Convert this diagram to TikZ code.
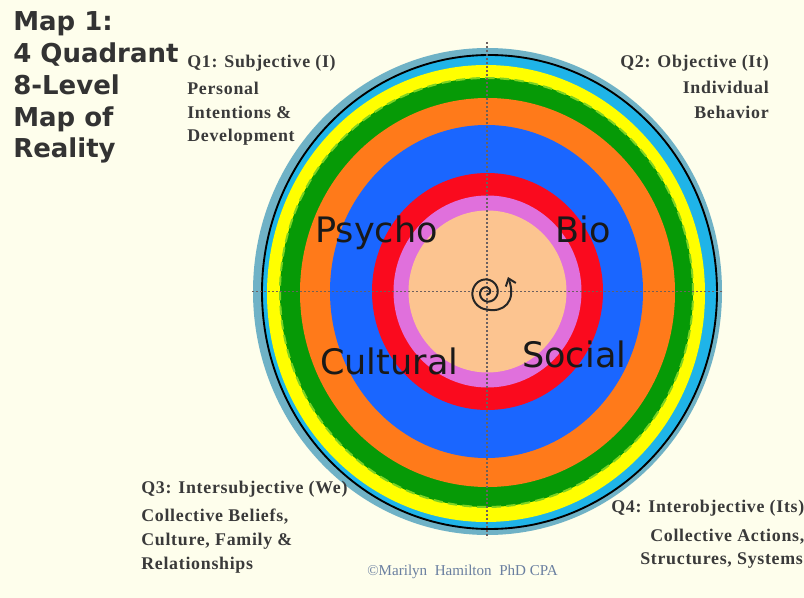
\documentclass[tikz,border=0pt]{standalone}
\usepackage{fontspec}
\usetikzlibrary{arrows.meta}
\setmainfont{Liberation Serif}
\newfontfamily\titlefont{DejaVu Sans}
\newfontfamily\spacedfont[LetterSpace=4]{Liberation Serif}
\definecolor{bgc}{HTML}{FEFEEC}
\definecolor{tealc}{HTML}{6FB2C6}
\definecolor{skyc}{HTML}{1FB4E8}
\definecolor{yellowc}{HTML}{FFFF00}
\definecolor{greenc}{HTML}{069A06}
\definecolor{limec}{HTML}{7ED321}
\definecolor{orangec}{HTML}{FF7A1A}
\definecolor{bluec}{HTML}{1A66FF}
\definecolor{redc}{HTML}{FA0A1E}
\definecolor{violetc}{HTML}{E070DC}
\definecolor{peachc}{HTML}{FCC490}
\definecolor{qtext}{HTML}{3A3A3A}
\definecolor{copyc}{HTML}{6A7FA0}
\definecolor{axisc}{HTML}{6A6060}
\tikzset{
  x=0.75pt,y=-0.75pt,
  titletext/.style={anchor=base west,inner sep=0pt,font=\titlefont\bfseries\fontsize{19.5}{22}\selectfont,text=black!80},
  qhead/.style={anchor=west,inner sep=0pt,font=\spacedfont\bfseries\fontsize{13.4}{15}\selectfont,text=qtext},
  qheadr/.style={anchor=east,inner sep=0pt,font=\spacedfont\bfseries\fontsize{13.4}{15}\selectfont,text=qtext},
  bigtext/.style={anchor=base west,inner sep=0pt,font=\titlefont\fontsize{26.3}{30}\selectfont,text=black!90},
  axis/.style={dash pattern=on 1.4pt off 1.6pt,line width=1.2pt,draw=axisc},
  spiralline/.style={line width=1.5pt,draw=black!85},
}
\begin{document}
\begin{tikzpicture}
\useasboundingbox (0,0) rectangle (804,598);
\fill[bgc] (0,0) rectangle (804,598);
\coordinate (c) at (487.5,291.5);
\fill[tealc]   (487.5,291.5) ellipse [x radius=234.5*0.75pt,y radius=243.5*0.75pt];
\fill[skyc]    (489.5,292) ellipse [x radius=227.5*0.75pt,y radius=237*0.75pt];
\draw[black,line width=1.4pt] (489.5,292) ellipse [x radius=227.5*0.75pt,y radius=237*0.75pt];
\fill[yellowc] (486,293.5) ellipse [x radius=219*0.75pt,y radius=228.5*0.75pt];
\fill[greenc]  (486.5,292.5) ellipse [x radius=206.5*0.75pt,y radius=214.5*0.75pt];
\draw[limec,line width=1.5pt,dash pattern=on 7pt off 4pt] (486.5,292.5) ellipse [x radius=206.5*0.75pt,y radius=214.5*0.75pt];
\fill[orangec] (487.5,292.5) ellipse [x radius=187.5*0.75pt,y radius=194.5*0.75pt];
\fill[bluec]   (486.5,291.5) ellipse [x radius=156.5*0.75pt,y radius=166.5*0.75pt];
\fill[redc]    (487.5,291.5) ellipse [x radius=115.5*0.75pt,y radius=118.5*0.75pt];
\fill[violetc] (487.5,291.5) ellipse [x radius=94*0.75pt,y radius=96*0.75pt];
\fill[peachc]  (487.5,291.5) ellipse [x radius=79*0.75pt,y radius=81*0.75pt];
\coordinate (top) at (487,42);
\coordinate (bot) at (487,538);
\coordinate (lft) at (252,291.5);
\coordinate (rgt) at (722,291.5);
\draw[axis] (top) -- (bot);
\draw[axis] (lft) -- (rgt);
\node[titletext] (t1) at (13,31) {Map 1:};
\node[titletext] (t2) at (13,63) {4 Quadrant};
\node[titletext] (t3) at (13,95) {8-Level};
\node[titletext] (t4) at (13,127) {Map of};
\node[titletext] (t5) at (13,158) {Reality};
\node[qhead] (q1a) at (187,63) {Q1: Subjective (I)};
\node[qhead] (q1b) at (187,88) {Personal};
\node[qhead] (q1c) at (187,112) {Intentions \&};
\node[qhead] (q1d) at (187,137) {Development};
\node[qheadr] (q2a) at (769,63) {Q2: Objective (It)};
\node[qheadr] (q2b) at (769,87) {Individual};
\node[qheadr] (q2c) at (769,112) {Behavior};
\node[qhead] (q3a) at (141,489) {Q3: Intersubjective (We)};
\node[qhead] (q3b) at (141,517) {Collective Beliefs,};
\node[qhead] (q3c) at (141,541) {Culture, Family \&};
\node[qhead] (q3d) at (141,565) {Relationships};
\node[qhead] (q4a) at (611,508) {Q4: Interobjective (Its)};
\node[qhead] (q4b) at (650,537) {Collective Actions,};
\node[qhead] (q4c) at (640,561) {Structures, Systems};
\node[inner sep=0pt,anchor=west,font=\fontsize{11.3}{13}\selectfont,text=copyc] (copy) at (367,572) {©Marilyn\ \ Hamilton\ \ PhD CPA};
\node[bigtext] (psy) at (315,243) {Psycho};
\node[bigtext] (bio) at (555,243) {Bio};
\node[bigtext] (cul) at (320,375) {Cultural};
\node[bigtext] (soc) at (522,368) {Social};
\draw[spiralline] plot[domain=0:720,samples=100,smooth] ({487+(1+15.5*\x/720)*cos(810-\x)},{292.5+(1+16*\x/720)*sin(810-\x)});
\coordinate (sa) at (487,309.5);
\coordinate (sb) at (508,277);
\draw[spiralline,-{Straight Barb[length=5pt,width=8pt]}] (sa) .. controls (503,313) and (517,302) .. (sb);
\end{tikzpicture}
\end{document}
